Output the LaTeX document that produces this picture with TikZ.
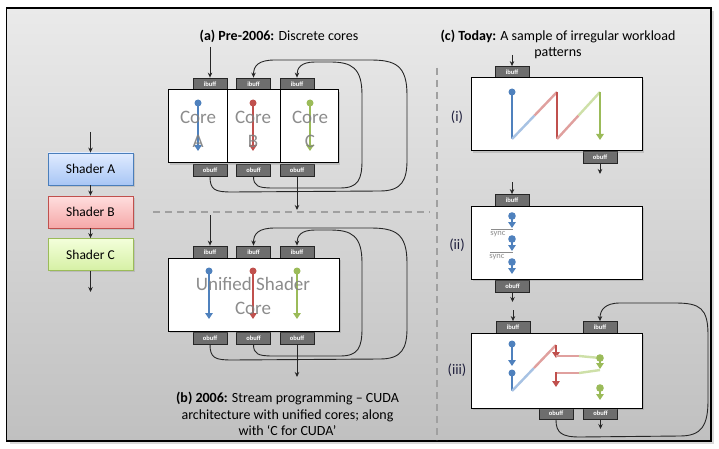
\documentclass[tikz,border=0pt]{standalone}
\usepackage{fontspec}
\setmainfont{Carlito}
\usetikzlibrary{arrows.meta,shadows}
\definecolor{cblue}{RGB}{79,129,189}
\definecolor{cred}{RGB}{192,80,77}
\definecolor{cgreen}{RGB}{155,187,89}
\definecolor{lblue}{RGB}{167,194,227}
\definecolor{lred}{RGB}{224,160,158}
\definecolor{lgreen}{RGB}{206,224,168}
\definecolor{frtop}{RGB}{234,234,234}
\definecolor{frbot}{RGB}{192,192,192}
\definecolor{buffill}{RGB}{110,110,110}
\definecolor{sepgray}{RGB}{160,160,160}
\definecolor{lbltxt}{RGB}{30,30,60}
\begin{document}
\begin{tikzpicture}[x=1pt,y=-1pt,
  conn/.style={draw=black!85, line width=0.9pt, -{Stealth[length=5pt,width=4.5pt]}},
  buf/.style={draw=black!85, fill=buffill, text=white, font=\fontsize{6.5}{7}\selectfont\bfseries, minimum width=34pt, minimum height=12pt, inner sep=0pt, line width=0.8pt},
  whitebox/.style={draw=black, line width=1pt, fill=white, inner sep=0pt, drop shadow={shadow xshift=2pt,shadow yshift=-2pt,opacity=0.3}},
  shader/.style={draw, line width=0.8pt, minimum width=85pt, minimum height=32pt, inner sep=0pt, font=\fontsize{13.5}{15}\selectfont, drop shadow={shadow xshift=1.5pt,shadow yshift=-1.5pt,opacity=0.25}},
  corelbl/.style={text=black!50, font=\fontsize{19}{24}\selectfont, align=center, opacity=0.9},
  carrow/.style={line width=2.4pt, -{Triangle[length=6pt,width=7.5pt]}},
  seg/.style={line width=2.4pt},
  dashsep/.style={draw=sepgray, line width=1.3pt, dash pattern=on 7pt off 5pt},
  ttl/.style={font=\fontsize{14}{16.5}\selectfont, align=center},
  rlbl/.style={font=\fontsize{14.5}{16}\selectfont, text=lbltxt},
  synctxt/.style={font=\fontsize{8.5}{9}\selectfont, text=black!45, inner sep=0pt}
]
\useasboundingbox (0,0) rectangle (719,449);
% frame
\path[drop shadow={shadow xshift=3pt,shadow yshift=-3pt,opacity=0.3}, top color=frtop, bottom color=frbot, draw=black, line width=1.5pt] (6.5,8) rectangle (711,441);

% separators
\draw[dashsep] (153,212) -- (430,212);
\draw[dashsep] (437,68) -- (437,440);

% ---------- left: shaders ----------
\node[shader, top color={rgb,255:red,224;green,235;blue,255}, bottom color={rgb,255:red,168;green,198;blue,245}, draw={rgb,255:red,74;green,126;blue,187}] (shA) at (90.5,169) {Shader A};
\node[shader, top color={rgb,255:red,255;green,222;blue,222}, bottom color={rgb,255:red,245;green,168;blue,168}, draw={rgb,255:red,192;green,80;blue,77}] (shB) at (90.5,212) {Shader B};
\node[shader, top color={rgb,255:red,243;green,255;blue,218}, bottom color={rgb,255:red,214;green,240;blue,165}, draw={rgb,255:red,155;green,187;blue,89}] (shC) at (90.5,254.5) {Shader C};
\coordinate (s0) at (90.5,132);
\coordinate (s1) at (90.5,292);
\draw[conn] (s0) -- (shA.north);
\draw[conn] (shA.south) -- (shB.north);
\draw[conn] (shB.south) -- (shC.north);
\draw[conn] (shC.south) -- (s1);

% ---------- (a) ----------
\node[ttl] (tA) at (279,36) {\textbf{(a) Pre-2006:} Discrete cores};
\node[buf] (iA) at (210,84) {ibuff};
\node[buf] (iB) at (253.5,84) {ibuff};
\node[buf] (iC) at (297,84) {ibuff};
\node[buf] (oA) at (210,170) {obuff};
\node[buf] (oB) at (253.5,170) {obuff};
\node[buf] (oC) at (297,170) {obuff};
\node[whitebox, minimum width=59pt, minimum height=73pt] (coreA) at (197.5,126.5) {};
\node[whitebox, minimum width=53pt, minimum height=73pt] (coreB) at (253.5,126.5) {};
\node[whitebox, minimum width=58pt, minimum height=73pt] (coreC) at (309,126.5) {};
\fill[cblue] (198,103) circle (3.5);
\draw[carrow, cblue] (198,103) -- (198,151);
\fill[cred] (253,103) circle (3.5);
\draw[carrow, cred] (253,103) -- (253,151);
\fill[cgreen] (310,103) circle (3.5);
\draw[carrow, cgreen] (310,103) -- (310,151);
\node[corelbl] (lA) at (198,129) {Core\\A};
\node[corelbl] (lB) at (253,129) {Core\\B};
\node[corelbl] (lC) at (310,129) {Core\\C};
\coordinate (ainp) at (210,47);
\coordinate (aout) at (297,210);
\draw[conn] (ainp) -- (iA.north);
\draw[conn] (oC.south) -- (aout);
\draw[conn] (oA.south) .. controls (210,190) and (215,192) .. (232,192) -- (380,191) .. controls (402,191) and (407,180) .. (407,160) -- (407,95) .. controls (407,65) and (395,60) .. (370,60) -- (275,60) .. controls (258,60) and (253.5,66) .. (iB.north);
\draw[conn] (oB.south) .. controls (253.5,186) and (258,188) .. (273,188) -- (340,188) .. controls (358,188) and (362,180) .. (362,160) -- (362,95) .. controls (362,68) and (352,62) .. (330,62) -- (315,62) .. controls (301,62) and (297,68) .. (iC.north);

% ---------- (b) ----------
\node[buf] (iA2) at (210,252) {ibuff};
\node[buf] (iB2) at (253.5,252) {ibuff};
\node[buf] (iC2) at (297,252) {ibuff};
\node[buf] (oA2) at (210,338) {obuff};
\node[buf] (oB2) at (253.5,338) {obuff};
\node[buf] (oC2) at (297,338) {obuff};
\node[whitebox, minimum width=171pt, minimum height=73pt] (ucore) at (253.5,294.5) {};
\fill[cblue] (209,271) circle (3.5);
\draw[carrow, cblue] (209,271) -- (209,319);
\fill[cred] (253,271) circle (3.5);
\draw[carrow, cred] (253,271) -- (253,319);
\fill[cgreen] (297,271) circle (3.5);
\draw[carrow, cgreen] (297,271) -- (297,319);
\node[corelbl] (lU) at (253,295.5) {Unified Shader\\Core};
\coordinate (binp) at (210,215);
\coordinate (bout) at (297,377);
\draw[conn] (binp) -- (iA2.north);
\draw[conn] (oC2.south) -- (bout);
\draw[conn] (oA2.south) .. controls (210,358) and (215,360) .. (232,360) -- (380,359) .. controls (402,359) and (407,348) .. (407,328) -- (407,263) .. controls (407,233) and (395,228) .. (370,228) -- (275,228) .. controls (258,228) and (253.5,234) .. (iB2.north);
\draw[conn] (oB2.south) .. controls (253.5,354) and (258,356) .. (273,356) -- (340,356) .. controls (358,356) and (362,348) .. (362,328) -- (362,263) .. controls (362,236) and (352,230) .. (330,230) -- (315,230) .. controls (301,230) and (297,236) .. (iC2.north);
\node[ttl] (tB) at (287.5,414) {\textbf{(b) 2006:} Stream programming -- CUDA\\architecture with unified cores; along\\with ‘C for CUDA’};

% ---------- (c) ----------
\node[ttl] (tC) at (558,44.5) {\textbf{(c) Today:} A sample of irregular workload\\patterns};

% (i)
\node[buf] (ci) at (512,72.5) {ibuff};
\node[buf] (co) at (600,157.5) {obuff};
\node[whitebox, minimum width=171pt, minimum height=73pt] (boxi) at (556.5,114.5) {};
\node[rlbl] (li) at (457,117) {(i)};
\coordinate (cinp) at (512,55);
\coordinate (cout) at (600,174);
\draw[conn] (cinp) -- (ci.north);
\draw[conn] (co.south) -- (cout);
\fill[cblue] (512,92) circle (3.5);
\draw[seg, cblue] (512,92) -- (512,139);
\draw[seg, lblue] (512,139) -- (534.5,115.5);
\draw[seg, lred] (534.5,115.5) -- (557,92);
\draw[seg, cred] (557,92) -- (557,139);
\draw[seg, lred] (557,139) -- (578.5,115.5);
\draw[seg, lgreen] (578.5,115.5) -- (600,92);
\draw[carrow, cgreen] (600,92) -- (600,140);

% (ii)
\node[buf] (cii) at (512,200.5) {ibuff};
\node[buf] (coii) at (512.5,286) {obuff};
\node[whitebox, minimum width=171pt, minimum height=73pt] (boxii) at (556.5,242.5) {};
\node[rlbl] (lii) at (457,245) {(ii)};
\coordinate (ciinp) at (512,182);
\coordinate (ciiout) at (512.5,302);
\draw[conn] (ciinp) -- (cii.north);
\draw[conn] (coii.south) -- (ciiout);
\fill[cblue] (512,216) circle (3.8);
\draw[carrow, cblue] (512,216) -- (512,228);
\fill[cblue] (512,239) circle (3.8);
\draw[carrow, cblue] (512,239) -- (512,251);
\fill[cblue] (512,262) circle (3.8);
\draw[carrow, cblue] (512,262) -- (512,274);
\draw[black!45, line width=0.6pt] (491,229.5) -- (513,229.5);
\node[synctxt] (sy1) at (498,234.5) {sync};
\draw[black!45, line width=0.6pt] (490,252.5) -- (513,252.5);
\node[synctxt] (sy2) at (497,257.5) {sync};

% (iii)
\node[buf] (ciii) at (513,327.5) {ibuff};
\node[buf] (ciiiR) at (600,327.5) {ibuff};
\node[buf] (coiii) at (556,413.5) {obuff};
\node[buf] (coiiiR) at (600.5,413.5) {obuff};
\node[whitebox, minimum width=171pt, minimum height=75pt] (boxiii) at (556.5,370.5) {};
\node[rlbl] (liii) at (457,370) {(iii)};
\coordinate (ciiiinp) at (513,310);
\coordinate (ciiiout) at (600.5,429);
\draw[conn] (ciiiinp) -- (ciii.north);
\draw[conn] (coiiiR.south) -- (ciiiout);
\draw[conn] (coiii.south) .. controls (556,433) and (562,437) .. (580,437) -- (680,436) .. controls (702,436) and (708,425) .. (708,400) -- (708,335) .. controls (708,308) and (700,303) .. (675,303) -- (620,303) .. controls (605,303) and (600,310) .. (ciiiR.north);
\fill[cblue] (512,344) circle (3.5);
\draw[carrow, cblue] (512,344) -- (512,366);
\fill[cblue] (512,373) circle (3.5);
\draw[seg, cblue] (512,373) -- (512,391);
\draw[seg, lblue] (512,391) -- (534,368);
\draw[seg, lred] (534,368) -- (556,345);
\draw[carrow, cred] (556,345) -- (556,358);
\draw[seg, lred] (556,356) -- (579,356);
\draw[seg, lgreen] (579,356) -- (600,358);
\fill[cgreen] (600,358) circle (3.8);
\draw[carrow, cgreen] (600,358) -- (600,369);
\draw[seg, lgreen] (600,370) -- (579,373);
\draw[seg, lred] (579,373) -- (555,373);
\draw[carrow, cred] (556,372) -- (556,387);
\fill[cgreen] (600,388) circle (3.8);
\draw[carrow, cgreen] (600,388) -- (600,400);
\end{tikzpicture}
\end{document}
